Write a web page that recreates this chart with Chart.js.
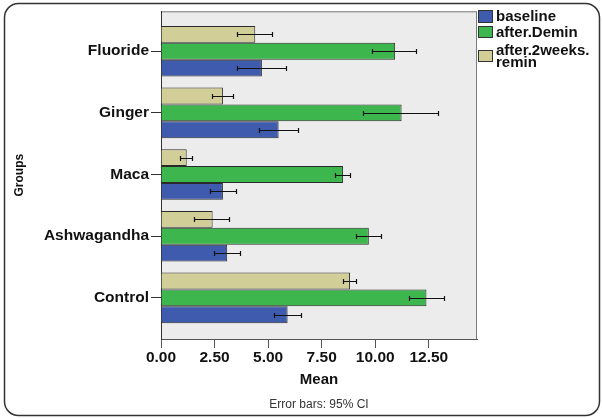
<!DOCTYPE html>
<html>
<head>
<meta charset="utf-8">
<script src="https://cdn.jsdelivr.net/npm/chart.js@4"></script>
<style>
    body { margin: 0; background: #ffffff; }
    canvas { display: block; }
</style>
</head>
<body>
<canvas id="meanChart" width="602" height="418"></canvas>
<script>
// Data
const groups = ['Fluoride', 'Ginger', 'Maca', 'Ashwagandha', 'Control'];
const xTicks = [0, 2.5, 5, 7.5, 10, 12.5];

const baseline = [4.71, 5.49, 2.89, 3.09, 5.91];
const baselineLo = [3.53, 4.59, 2.29, 2.47, 5.29];
const baselineHi = [5.88, 6.42, 3.53, 3.73, 6.56];

const demin = [10.93, 11.23, 8.50, 9.70, 12.39];
const deminLo = [9.87, 9.44, 8.13, 9.11, 11.58];
const deminHi = [11.95, 12.98, 8.89, 10.31, 13.26];

const remin = [4.40, 2.89, 1.20, 2.41, 8.82];
const reminLo = [3.56, 2.36, 0.89, 1.55, 8.50];
const reminHi = [5.24, 3.42, 1.51, 3.23, 9.13];

const font = '"Liberation Sans", Arial, sans-serif';

const colors = {
    baseline: '#3e5bae',
    demin: '#3cb64d',
    remin: '#d2ce98'
};

function points(values) {
    return values.map((v, i) => ({ x: v, y: i }));
}

// Plot background and frame around the picture
const backgroundPlugin = {
    id: 'plotBackground',
    beforeDraw(chart) {
        const { ctx, chartArea: a } = chart;
        ctx.save();
        ctx.fillStyle = '#ececec';
        ctx.fillRect(a.left, a.top, a.right - a.left, a.bottom - a.top);
        ctx.strokeStyle = '#7a7a7a';
        ctx.lineWidth = 1;
        ctx.strokeRect(a.left + 0.5, a.top + 0.5, a.right - a.left - 1, a.bottom - a.top);
        ctx.restore();
    },
    afterDraw(chart) {
        const ctx = chart.ctx;
        ctx.save();
        ctx.strokeStyle = '#333333';
        ctx.lineWidth = 1.5;
        ctx.beginPath();
        ctx.roundRect(4.5, 3.5, 595, 412, 14);
        ctx.stroke();
        ctx.restore();
    }
};

// 95% CI whiskers
const errorBarPlugin = {
    id: 'errorBars',
    afterDatasetsDraw(chart) {
        const { ctx, scales } = chart;
        ctx.save();
        ctx.strokeStyle = '#111111';
        ctx.lineWidth = 1.2;
        chart.data.datasets.forEach((ds, di) => {
            const meta = chart.getDatasetMeta(di);
            meta.data.forEach((bar, i) => {
                const x1 = Math.round(scales.x.getPixelForValue(ds.lo[i]));
                const x2 = Math.round(scales.x.getPixelForValue(ds.hi[i]));
                const y = Math.round(bar.y) + 0.5;
                ctx.beginPath();
                ctx.moveTo(x1, y);
                ctx.lineTo(x2, y);
                ctx.moveTo(x1 + 0.5, y - 2.5);
                ctx.lineTo(x1 + 0.5, y + 2.5);
                ctx.moveTo(x2 - 0.5, y - 2.5);
                ctx.lineTo(x2 - 0.5, y + 2.5);
                ctx.stroke();
            });
        });
        ctx.restore();
    }
};

// Legend drawn beside the plot, SPSS style
const legendPlugin = {
    id: 'sideLegend',
    afterDraw(chart) {
        const { ctx, chartArea: a } = chart;
        const items = [
            { ds: 2, top: 10, h: 13, lines: ['baseline'] },
            { ds: 1, top: 26, h: 12, lines: ['after.Demin'] },
            { ds: 0, top: 50, h: 12, lines: ['after.2weeks.', 'remin'] }
        ];
        ctx.save();
        ctx.font = 'bold 15px ' + font;
        ctx.textBaseline = 'middle';
        items.forEach(item => {
            const ds = chart.data.datasets[item.ds];
            ctx.fillStyle = ds.backgroundColor;
            ctx.fillRect(a.right + 1, item.top, 15, item.h);
            ctx.strokeStyle = '#333333';
            ctx.strokeRect(a.right + 1.5, item.top + 0.5, 14, item.h - 1);
            ctx.fillStyle = '#111111';
            const start = item.top + item.h / 2 - (item.lines.length - 1) * 6 + 0.5;
            item.lines.forEach((line, k) => {
                ctx.fillText(line, a.right + 19, start + k * 12.5);
            });
        });
        ctx.restore();
    }
};

new Chart(document.getElementById('meanChart'), {
    type: 'bar',
    data: {
        datasets: [
            {
                label: 'after.2weeks.remin',
                data: points(remin),
                lo: reminLo,
                hi: reminHi,
                backgroundColor: colors.remin
            },
            {
                label: 'after.Demin',
                data: points(demin),
                lo: deminLo,
                hi: deminHi,
                backgroundColor: colors.demin
            },
            {
                label: 'baseline',
                data: points(baseline),
                lo: baselineLo,
                hi: baselineHi,
                backgroundColor: colors.baseline
            }
        ]
    },
    options: {
        indexAxis: 'y',
        responsive: false,
        animation: false,
        events: [],
        layout: {
            padding: { left: 4, top: 9, right: 125, bottom: 2 }
        },
        datasets: {
            bar: {
                borderColor: '#2a2a2a',
                borderWidth: 1,
                borderSkipped: 'start',
                categoryPercentage: 0.821,
                barPercentage: 1
            }
        },
        scales: {
            x: {
                type: 'linear',
                position: 'bottom',
                min: 0,
                max: 14.75,
                afterFit(scale) { scale.height = 50; },
                afterBuildTicks(scale) {
                    scale.ticks = xTicks.map(v => ({ value: v }));
                },
                grid: {
                    drawOnChartArea: false,
                    drawTicks: true,
                    tickLength: 9,
                    color: '#555555'
                },
                border: { display: true, color: '#555555' },
                ticks: {
                    padding: 0,
                    color: '#111111',
                    font: { family: font, size: 15.5, weight: 'bold' },
                    callback: v => v.toFixed(2)
                },
                title: {
                    display: true,
                    text: 'Mean',
                    color: '#111111',
                    font: { family: font, size: 15, weight: 'bold' },
                    padding: { top: 0, bottom: 0 }
                }
            },
            // second bottom axis only carries the footnote under the plot
            note: {
                type: 'linear',
                position: 'bottom',
                axis: 'x',
                min: 0,
                max: 1,
                afterFit(scale) { scale.height = 27; },
                grid: { display: false },
                border: { display: false },
                ticks: { display: false },
                title: {
                    display: true,
                    text: 'Error bars: 95% CI',
                    color: '#333333',
                    font: { family: font, size: 12, weight: 'normal' },
                    padding: { top: 0, bottom: 3.8 }
                }
            },
            y: {
                type: 'linear',
                reverse: true,
                offset: false,
                min: -0.647,
                max: 4.667,
                afterFit(scale) { scale.width = 157; },
                afterBuildTicks(scale) {
                    scale.ticks = groups.map((g, i) => ({ value: i }));
                },
                grid: {
                    offset: false,
                    drawOnChartArea: false,
                    drawTicks: true,
                    tickLength: 10,
                    color: '#333333'
                },
                border: { display: true, color: '#333333' },
                ticks: {
                    padding: 2,
                    color: '#111111',
                    font: { family: font, size: 15.5, weight: 'bold' },
                    callback: v => groups[v]
                },
                title: {
                    display: true,
                    text: 'Groups',
                    color: '#111111',
                    font: { family: font, size: 12, weight: 'bold' },
                    padding: { top: 8.8, bottom: 0 }
                }
            }
        },
        plugins: {
            legend: { display: false },
            tooltip: { enabled: false },
            title: { display: false }
        }
    },
    plugins: [backgroundPlugin, errorBarPlugin, legendPlugin]
});
</script>
</body>
</html>
